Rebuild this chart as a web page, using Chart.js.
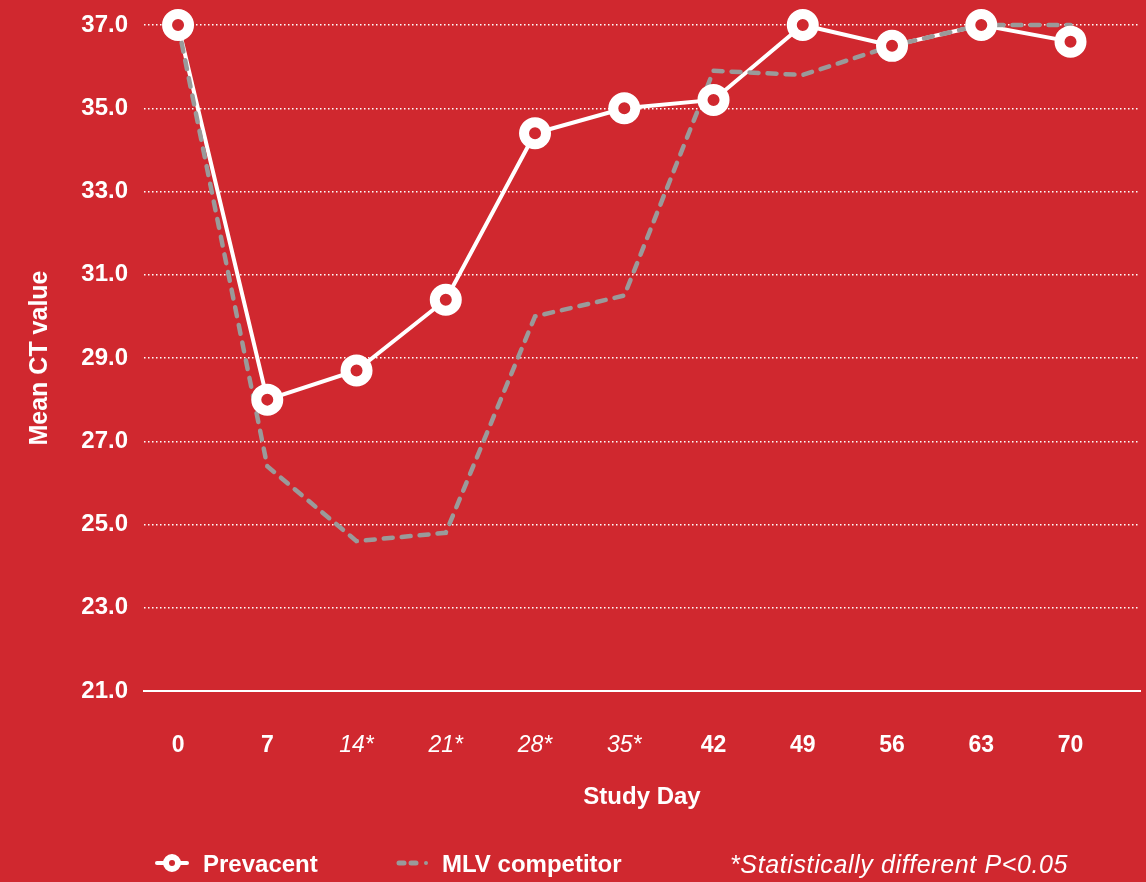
<!DOCTYPE html>
<html>
<head>
<meta charset="utf-8">
<script src="https://cdn.jsdelivr.net/npm/chart.js@4.4.1/dist/chart.umd.min.js"></script>
<style>
  html, body { margin: 0; overflow: hidden; }
  body { background: #D0282F; font-family: "Liberation Sans", Arial, Helvetica, sans-serif; }
  #wrap { position: relative; width: 1146px; height: 882px; }
  #myChart { display: block; }
  .lg { position: absolute; color: #fff; font-size: 24px; line-height: 30px; white-space: nowrap; }
</style>
</head>
<body>
<div id="wrap">
  <canvas id="myChart"></canvas>
  <svg class="lg" style="left:155px; top:852px" width="34" height="22">
    <line x1="2" y1="11" x2="32" y2="11" stroke="#fff" stroke-width="4" stroke-linecap="round"/>
    <circle cx="17" cy="11" r="6" fill="#D0282F" stroke="#fff" stroke-width="6"/>
  </svg>
  <div class="lg" style="left:203px; top:849px; font-weight:bold">Prevacent</div>
  <svg class="lg" style="left:395px; top:852px" width="36" height="22">
    <line x1="4" y1="11" x2="9" y2="11" stroke="#9a9a9a" stroke-width="5" stroke-linecap="round"/>
    <line x1="16" y1="11" x2="21" y2="11" stroke="#9a9a9a" stroke-width="5" stroke-linecap="round"/>
    <line x1="31" y1="11" x2="31" y2="11" stroke="#9a9a9a" stroke-width="4" stroke-linecap="round"/>
  </svg>
  <div class="lg" style="left:442px; top:849px; font-weight:bold">MLV competitor</div>
  <div class="lg" style="left:730px; top:849px; font-style:italic; font-size:25px; letter-spacing:0.62px">*Statistically different P&lt;0.05</div>
</div>
<script>
// study days and how they are labelled (* = significant)
const days = [0, 7, 14, 21, 28, 35, 42, 49, 56, 63, 70];
const dayLabels = ["0", "7", "14*", "21*", "28*", "35*", "42", "49", "56", "63", "70"];

// mean CT values
const prevacent = [37.0, 28.0, 28.7, 30.4, 34.4, 35.0, 35.2, 37.0, 36.5, 37.0, 36.6];
const mlvCompetitor = [37.0, 26.4, 24.6, 24.8, 30.0, 30.5, 35.9, 35.8, 36.5, 37.0, 37.0];

const yMin = 21;
const yMax = 37;
const yStep = 2;

const RED = "#D0282F";
const GREY = "#9a9a9a";

Chart.defaults.font.family = '"Liberation Sans", Arial, Helvetica, sans-serif';
Chart.defaults.color = "#fff";

function toPoints(values) {
  return days.map((d, i) => ({ x: d, y: values[i] }));
}

const config = {
  type: "line",
  data: {
    datasets: [
      {
        label: "Prevacent",
        data: toPoints(prevacent),
        borderColor: "#fff",
        borderWidth: 4,
        pointRadius: 0,
        tension: 0,
        clip: false,
        order: 3,
      },
      {
        label: "MLV competitor",
        data: toPoints(mlvCompetitor),
        borderColor: GREY,
        borderWidth: 4.5,
        borderDash: [9, 9],
        borderCapStyle: "round",
        pointRadius: 0,
        tension: 0,
        clip: false,
        order: 2,
      },
      {
        // markers of Prevacent, kept on top of both lines
        label: "Prevacent markers",
        data: toPoints(prevacent),
        showLine: false,
        pointRadius: 11,
        pointBorderWidth: 10,
        pointBorderColor: "#fff",
        pointBackgroundColor: RED,
        clip: false,
        order: 1,
      },
    ],
  },
  options: {
    responsive: true,
    maintainAspectRatio: false,
    animation: false,
    events: [],
    layout: {
      autoPadding: false,
      padding: { top: 25, right: 6, bottom: 61, left: 0 },
    },
    plugins: {
      legend: { display: false },
      tooltip: { enabled: false },
    },
    scales: {
      x: {
        type: "linear",
        min: -2.67,
        max: 75.45,
        afterBuildTicks: (axis) => {
          axis.ticks = days.map((d) => ({ value: d }));
        },
        afterFit: (scale) => {
          scale.height = 130;
          scale.paddingLeft = 0;
          scale.paddingRight = 0;
        },
        grid: { display: false, drawTicks: false },
        border: { display: true, color: "#fff", width: 2 },
        ticks: {
          autoSkip: false,
          maxRotation: 0,
          padding: 41,
          color: "#fff",
          callback: (value, index) => dayLabels[index],
          font: (ctx) =>
            dayLabels[ctx.index] && dayLabels[ctx.index].includes("*")
              ? { size: 23, style: "italic", weight: "normal" }
              : { size: 23, weight: "bold" },
        },
        title: {
          display: true,
          text: "Study Day",
          color: "#fff",
          font: { size: 24, weight: "bold" },
          padding: { top: 0, bottom: 9.6 },
        },
      },
      y: {
        min: yMin,
        max: yMax,
        afterFit: (scale) => {
          scale.width = 144;
          scale.paddingTop = 0;
          scale.paddingBottom = 0;
        },
        grid: {
          drawTicks: false,
          lineWidth: 1.5,
          color: (ctx) => (ctx.tick && ctx.tick.value === yMin ? "rgba(0,0,0,0)" : "#fff"),
        },
        border: { display: false, dash: [1.5, 2.5] },
        ticks: {
          stepSize: yStep,
          padding: 16,
          color: "#fff",
          font: { size: 24, weight: "bold" },
          callback: (value) => value.toFixed(1),
        },
        title: {
          display: true,
          text: "Mean CT value",
          color: "#fff",
          font: { size: 25, weight: "bold" },
          padding: { top: 25, bottom: 0 },
        },
      },
    },
  },
};

new Chart(document.getElementById("myChart"), config);
</script>
</body>
</html>
